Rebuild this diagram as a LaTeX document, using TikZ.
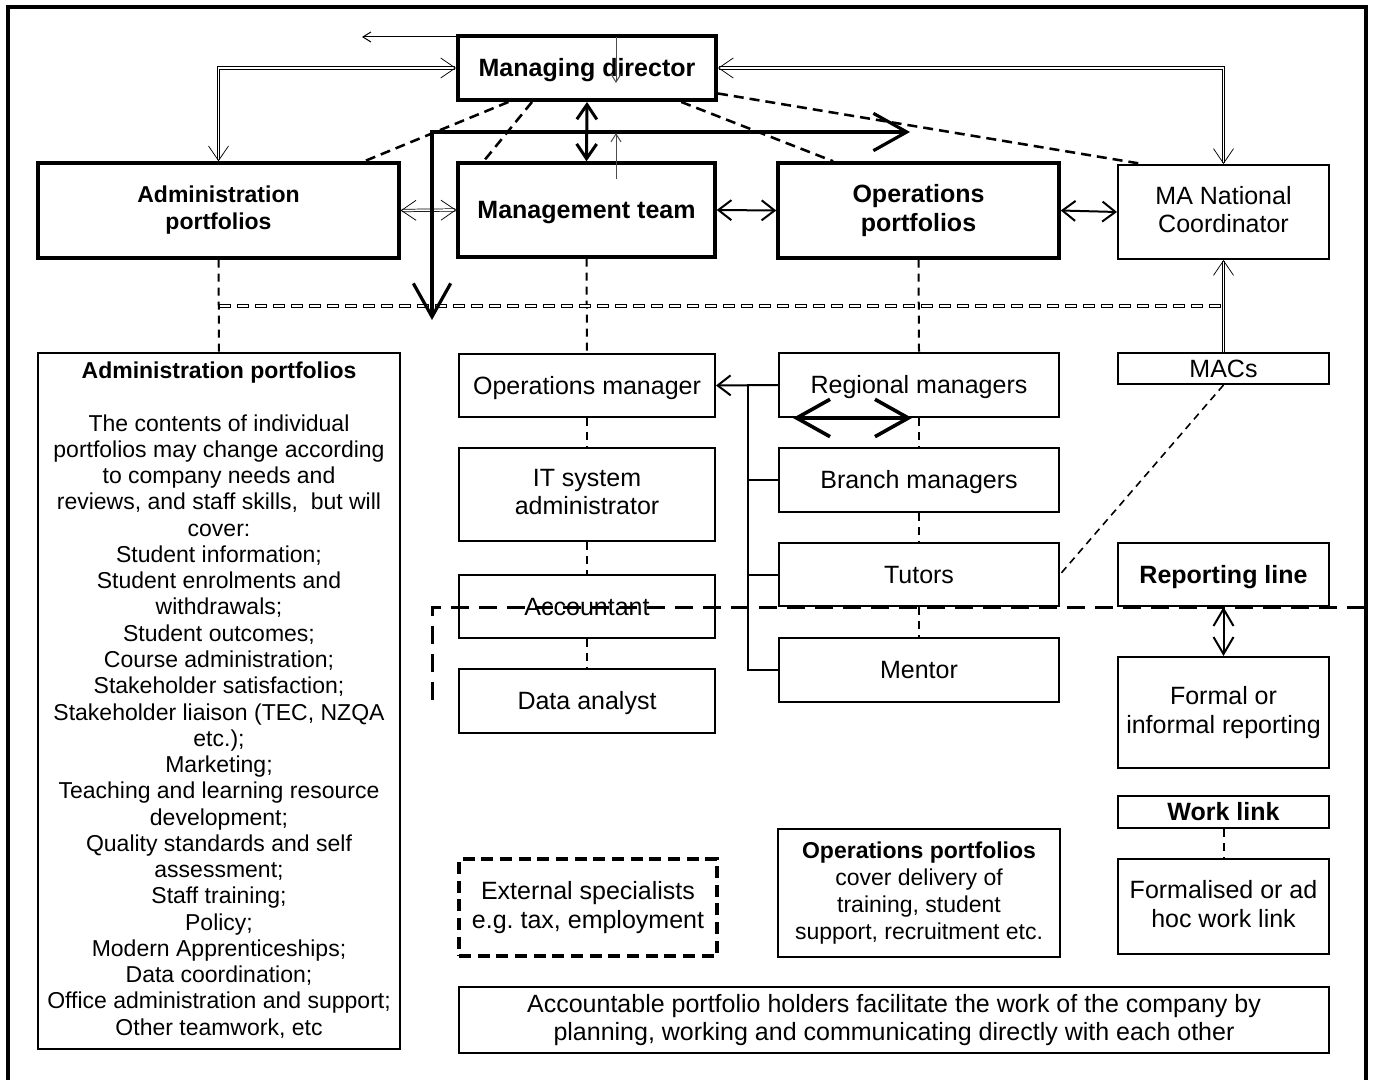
\documentclass[tikz,border=0pt]{standalone}
\usepackage{fontspec}
\setmainfont{Liberation Sans}
\usetikzlibrary{arrows.meta,calc}
% \orgbox{name}{x1}{y1}{x2}{y2}{style}{text}: a box spanning two pixel corners
\newcommand\orgbox[7]{%
  \node[#6, minimum width={(#4-#2)*0.75pt}, minimum height={(#5-#3)*0.75pt}]
    (#1) at ({(#2+#4)/2},{(#3+#5)/2}) {#7};}
\frenchspacing
\begin{document}
\begin{tikzpicture}[x=0.75pt,y=-0.75pt,
  box/.style={draw, line width=1.5pt, inner sep=0pt, align=center,
    font=\fontsize{18.75}{21.5}\selectfont,
    execute at begin node={\rule{0pt}{0.905em}},
    execute at end node={\rule[-0.212em]{0pt}{0pt}}},
  keybox/.style={box, line width=2.6pt, font=\fontsize{18.75}{21.5}\selectfont\bfseries},
  dlink/.style={line width=1.5pt, dash pattern=on 6pt off 4.5pt},
  dtop/.style={line width=1.9pt, dash pattern=on 7.5pt off 4.5pt},
  link/.style={line width=1.5pt, >={Straight Barb[length=9.75pt,width=15pt]}},
  dbl/.style={line width=0.55pt, double=white, double distance=1.3pt,
    >={Straight Barb[length=11pt,width=15pt]}},
  fine/.style={line width=0.75pt, >={Straight Barb[length=6pt,width=7.5pt]}},
  heavy/.style={line width=2.25pt, >={Straight Barb[length=11pt,width=15pt]}},
  huge/.style={line width=2.4pt, >={Straight Barb[length=25pt,width=28pt]}},
]
\useasboundingbox (0,0) rectangle (1373,1080);
% outer frame
\draw[line width=2.3pt] (8,1095) -- (8,7) -- (1366,7) -- (1366,1095);

% top level
\orgbox{md}{458}{36}{716}{100}{keybox, line width=3pt}{Managing director}
\orgbox{adm}{38}{163}{399}{258}{keybox, font=\fontsize{17.25}{20.25}\selectfont\bfseries}{Administration\\portfolios}
\orgbox{mt}{458}{163}{715}{257}{keybox}{Management team}
\orgbox{ops}{778}{163}{1059}{258}{keybox}{Operations\\portfolios}
\orgbox{ma}{1118}{165}{1329}{259}{box}{MA National\\Coordinator}
\orgbox{macs}{1118}{353}{1329}{384}{box}{MACs}

% management column
\orgbox{opm}{459}{354}{715}{417}{box}{Operations manager}
\orgbox{it}{459}{448}{715}{541}{box}{IT system\\administrator}
\orgbox{acc}{459}{575}{715}{638}{box}{Accountant}
\orgbox{da}{459}{669}{715}{733}{box}{Data analyst}

% operations column
\orgbox{rm}{779}{353}{1059}{417}{box}{Regional managers}
\orgbox{bm}{779}{448}{1059}{512}{box}{Branch managers}
\orgbox{tut}{779}{543}{1059}{606}{box}{Tutors}
\orgbox{men}{779}{638}{1059}{702}{box}{Mentor}

% administration portfolio list
\orgbox{adb}{38}{353}{400}{1049}{box, font=\fontsize{17.25}{19.7}\selectfont}
 {\textbf{Administration portfolios}\\[19.7pt]
  The contents of individual\\
  portfolios may change according\\
  to company needs and\\
  reviews, and staff skills,\ \ but will\\
  cover:\\
  Student information;\\
  Student enrolments and\\
  withdrawals;\\
  Student outcomes;\\
  Course administration;\\
  Stakeholder satisfaction;\\
  Stakeholder liaison (TEC, NZQA\\
  etc.);\\
  Marketing;\\
  Teaching and learning resource\\
  development;\\
  Quality standards and self\\
  assessment;\\
  Staff training;\\
  Policy;\\
  Modern Apprenticeships;\\
  Data coordination;\\
  Office administration and support;\\
  Other teamwork, etc}

% key
\orgbox{rep}{1118}{543}{1329}{606}{box, font=\fontsize{18.75}{21.5}\selectfont\bfseries}{Reporting line}
\orgbox{frm}{1118}{657}{1329}{768}{box}{Formal or\\informal reporting}
\orgbox{wl}{1118}{796}{1329}{828}{box, font=\fontsize{18.75}{21.5}\selectfont\bfseries}{Work link}
\orgbox{fw}{1118}{859}{1329}{954}{box}{Formalised or ad\\hoc work link}

% notes
\orgbox{ext}{459}{859}{717}{956}{box, line width=2.6pt, dash pattern=on 9pt off 5pt}
 {External specialists\\e.g. tax, employment}
\orgbox{opn}{778}{829}{1060}{957}{box, font=\fontsize{17.25}{20.25}\selectfont}
 {\textbf{Operations portfolios}\\cover delivery of\\training, student\\support, recruitment etc.}
\orgbox{acb}{459}{987}{1329}{1053}{box}
 {Accountable portfolio holders facilitate the work of the company by\\planning, working and communicating directly with each other}

% dashed work links from the managing director
\draw[dtop] ($(md.south west)!0.2!(md.south east)$) -- ($(adm.north west)!0.9!(adm.north east)$);
\draw[dtop] ($(md.south west)!0.29!(md.south east)$) -- ($(mt.north west)!0.105!(mt.north east)$);
\draw[dtop] ($(md.south west)!0.86!(md.south east)$) -- ($(ops.north west)!0.2!(ops.north east)$);
\draw[dtop] ($(md.north east)!0.875!(md.south east)$) -- ($(ma.north west)!0.12!(ma.north east)$);

% dashed column links
\draw[dlink] (adm.south) -- (adb.north);
\draw[dlink] (mt.south) -- (opm.north);
\draw[dlink] (opm.south) -- (it.north);
\draw[dlink] (it.south) -- (acc.north);
\draw[dlink] (acc.south) -- (da.north);
\draw[dlink] (ops.south) -- (rm.north);
\draw[dlink] (rm.south) -- (bm.north);
\draw[dlink] (bm.south) -- (tut.north);
\draw[dlink] (tut.south) -- (men.north);
\draw[dlink] (wl.south) -- (fw.north);
\draw[line width=1.2pt, dash pattern=on 5.5pt off 4pt] (macs.south) -- (tut.east);

% double-line reporting links
\draw[dbl,<->] (md.west) -| (adm.north);
\draw[dbl,<->] (md.east) -| (ma.north);
\draw[dbl,<->] (adm.east) -- (mt.west);
\draw[dbl,->] (macs.north) -- (ma.south);
% hollow dashed line across the middle
\coordinate (hl) at (219,306);
\coordinate (hr) at (1224,306);
\draw[line width=2.4pt, dash pattern=on 9pt off 4.5pt] (hl) -- (hr);
\draw[line width=1.1pt, white, dash pattern=on 7.7pt off 5.8pt, dash phase=12.85pt] (hl) -- (hr);

% plain reporting links
\draw[link,<->] (mt.east) -- (ops.west);
\draw[link,<->] (ops.east) -- (ma.west);
\draw[link,->] (rm.west) -- (opm.east);
\coordinate (trunk) at (748,386);
\draw[line width=1.5pt] (trunk) |- (men.west);
\draw[line width=1.5pt] (trunk |- bm.west) -- (bm.west);
\draw[line width=1.5pt] (trunk |- tut.west) -- (tut.west);
\draw[link,<->,>={Straight Barb[length=12.75pt,width=15pt]}] (rep.south) -- (frm.north);

% heavy arrows
\draw[heavy,<->] (md.south) -- (mt.north);
\coordinate (bigdown) at (432,320);
\coordinate (bigright) at (910,132);
\draw[huge,<->] (bigdown) |- (bigright);
\coordinate (rml) at (793,418);
\coordinate (rmr) at (912,418);
\draw[huge,line width=2.7pt,<->] (rml) -- (rmr);

% fine arrows
\coordinate (mdl) at (457,37);
\coordinate (tl) at (362,37);
\draw[fine,->] (mdl) -- (tl);
\coordinate (mdtop) at (616,37);
\coordinate (mdin) at (616,83);
\draw[fine,->,black!70] (mdtop) -- (mdin);
\coordinate (mtin) at (616,179);
\coordinate (mtup) at (616,133);
\draw[fine,->,black!70] (mtin) -- (mtup);

% boundary of the external specialist zone
\draw[line width=2.25pt, dash pattern=on 13.5pt off 7.5pt] (432,700) -- (432,607) -- (1373,607);
\end{tikzpicture}
\end{document}
